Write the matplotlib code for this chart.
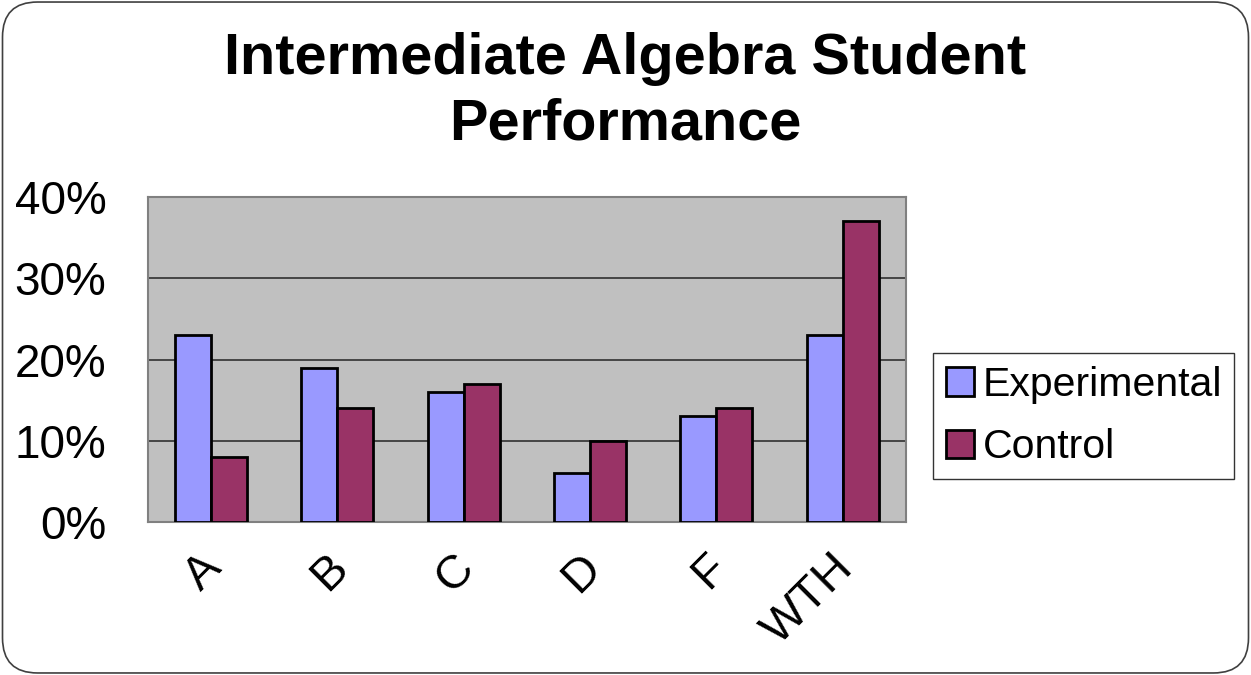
import numpy as np
import matplotlib.pyplot as plt
import matplotlib.transforms as mtransforms
from matplotlib.patches import FancyBboxPatch
from matplotlib.ticker import PercentFormatter

plt.rcParams['font.family'] = ['Liberation Sans', 'DejaVu Sans']

#--------------------------------------
categories   = ['A', 'B', 'C', 'D', 'F', 'WTH']
experimental = [0.23, 0.19, 0.16, 0.06, 0.13, 0.23]
control      = [0.08, 0.14, 0.17, 0.10, 0.14, 0.37]
yticks       = [0.0, 0.1, 0.2, 0.3, 0.4]
#--------------------------------------

fig = plt.figure(figsize=(12.51, 6.75), dpi=100)
fig.patch.set_facecolor('white')

# rounded frame round the whole chart
frame = FancyBboxPatch((0.002, 0.003), 0.996, 0.994,
                       boxstyle='round,pad=0,rounding_size=0.028',
                       transform=fig.transFigure, facecolor='none',
                       edgecolor='#404040', linewidth=1.2, mutation_aspect=12.51/6.75)
fig.patches.append(frame)

fig.text(0.5, 0.912, 'Intermediate Algebra Student', ha='center', va='center',
         fontsize=41.5, fontweight='bold')
fig.text(0.5, 0.815, 'Performance', ha='center', va='center',
         fontsize=41.5, fontweight='bold')

ax = fig.add_axes([0.1183, 0.2267, 0.6059, 0.4814])
ax.set_facecolor('#C0C0C0')

x = np.arange(len(categories))
w = 0.285
ax.bar(x - w/2, experimental, w, color='#9999FF', edgecolor='black', linewidth=2,
       label='Experimental', zorder=3)
ax.bar(x + w/2, control, w, color='#993366', edgecolor='black', linewidth=2,
       label='Control', zorder=3)

ax.set_xlim(-0.5, len(categories) - 0.5)
ax.set_ylim(0, 0.4)
ax.set_yticks(yticks)
ax.yaxis.set_major_formatter(PercentFormatter(1.0, decimals=0))
ax.grid(axis='y', color='#303030', linewidth=1.2, zorder=1)
ax.set_xticks(x)
ax.set_xticklabels([])
# category labels, nudged left/down like the original
trans = ax.get_xaxis_transform() + mtransforms.ScaledTranslation(-0.12, -0.24, fig.dpi_scale_trans)
for xi, cat in zip(x, categories):
    ax.text(xi, 0, cat, transform=trans, rotation=45, ha='right', va='top',
            rotation_mode='anchor', fontsize=34)
ax.tick_params(axis='y', labelsize=33, length=0, pad=30)
ax.tick_params(axis='x', length=0)
for s in ax.spines.values():
    s.set_color('#808080')
    s.set_linewidth(1.5)

leg = ax.legend(loc='center left', bbox_to_anchor=(1.036, 0.326), fontsize=29.5,
                frameon=True, fancybox=False, edgecolor='black',
                handlelength=0.7, handleheight=0.7, handletextpad=0.2,
                labelspacing=0.6, borderpad=0.3, borderaxespad=0)
leg.get_frame().set_linewidth(1.0)

fig.savefig('out.png', dpi=100)
